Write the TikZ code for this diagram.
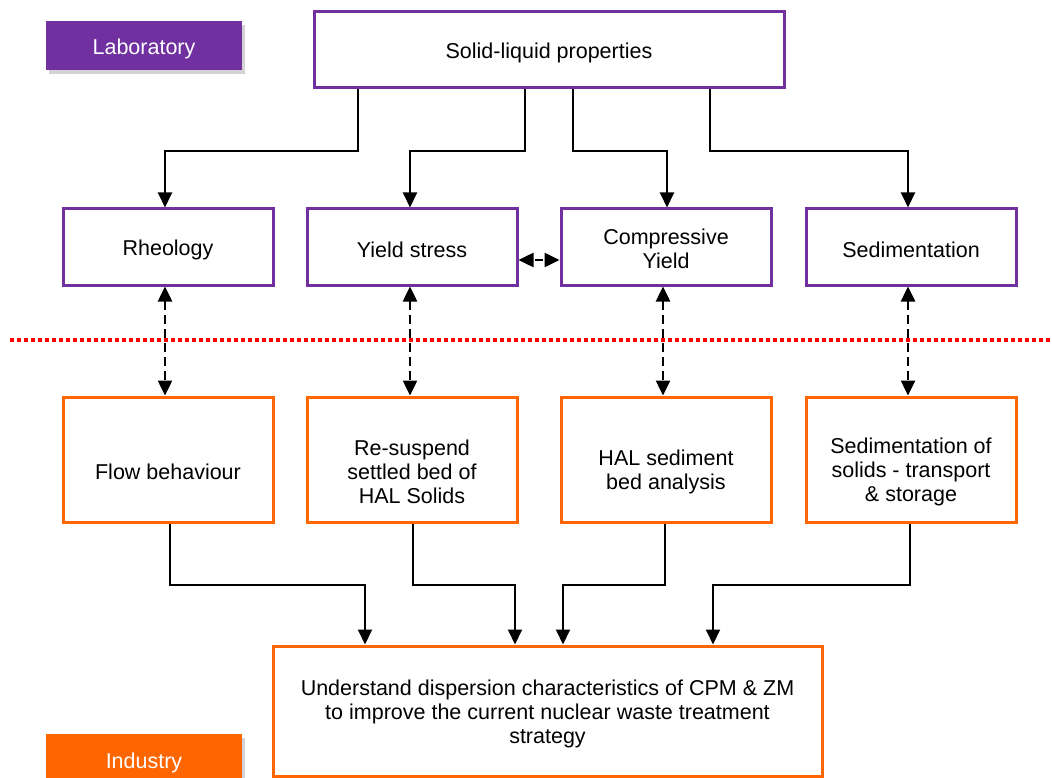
\documentclass[tikz,border=0pt]{standalone}
\usepackage{fontspec}
\setmainfont{Liberation Sans}
\usetikzlibrary{arrows.meta,shadows,calc}
\definecolor{labpurple}{HTML}{7030A0}
\definecolor{indorange}{HTML}{FF6600}
\begin{document}
\begin{tikzpicture}[x=1pt,y=-1pt,
  every node/.style={font=\fontsize{21.5}{24}\selectfont, align=center, inner sep=2pt},
  labbox/.style={draw=labpurple, line width=3pt, fill=white, minimum width=210pt, minimum height=76pt},
  indbox/.style={draw=indorange, line width=3pt, fill=white, minimum width=210pt, minimum height=125pt},
  boxtext/.style={inner sep=0pt},
  tag/.style={minimum width=196pt, drop shadow={shadow xshift=3pt, shadow yshift=-4pt, opacity=0.35}},
  arr/.style={draw=black, line width=2pt, -{Triangle[width=14pt,length=15pt]}},
  darr/.style={draw=black, line width=2.5pt, dash pattern=on 9pt off 5pt,
    {Triangle[width=14pt,length=15pt]}-{Triangle[width=14pt,length=15pt]}},
  divider/.style={draw=red, line width=3.5pt, dash pattern=on 3.5pt off 3.5pt}]
\useasboundingbox (0,0) rectangle (1052,778);

% category tags
\node[tag, fill=labpurple, minimum height=49pt] (lab) at (144,45.5) {};
\node[boxtext, text=white] at ([yshift=-3pt]lab.center) {Laboratory};
\node[tag, fill=indorange, minimum height=52pt] (ind) at (144,760) {};
\node[boxtext, text=white] at ([yshift=-3pt]ind.center) {Industry};

% laboratory level
\node[labbox, minimum width=470pt] (top) at (549,50) {};
\node[boxtext] at ([yshift=-3pt]top.center) {Solid-liquid properties};
\node[labbox] (rheo) at (168,247) {};
\node[boxtext] at ([yshift=-3pt]rheo.center) {Rheology};
\node[labbox] (yield) at (412,247) {};
\node[boxtext] at ([yshift=-3pt]yield.center) {Yield stress};
\node[labbox] (comp) at (666,247) {};
\node[boxtext] at ([yshift=-2pt]comp.center) {Compressive\\Yield};
\node[labbox] (sed) at (911,247) {};
\node[boxtext] at ([yshift=-3pt]sed.center) {Sedimentation};

% laboratory / industry boundary
\coordinate (divL) at (10,340);
\coordinate (divR) at (1052,340);
\draw[divider] (divL) -- (divR);

% industry level
\node[indbox] (flow) at (168,459.5) {};
\node[boxtext] at ([yshift=-12pt]flow.center) {Flow behaviour};
\node[indbox] (resus) at (412,459.5) {};
\node[boxtext] at ([yshift=-12pt]resus.center) {Re-suspend\\settled bed of\\HAL Solids};
\node[indbox] (hal) at (666,459.5) {};
\node[boxtext] at ([yshift=-12pt]hal.center) {HAL sediment\\bed analysis};
\node[indbox] (sedsol) at (911,459.5) {};
\node[boxtext] at ([yshift=-12pt]sedsol.center) {Sedimentation of\\solids - transport\\\& storage};

\node[draw=indorange, line width=3pt, fill=white, minimum width=549pt, minimum height=130pt] (bot) at (547.5,711) {};
\node[boxtext] at ([yshift=-3pt]bot.center)
  {Understand dispersion characteristics of CPM \& ZM\\to improve the current nuclear waste treatment\\strategy};

% properties feeding the four measurements
\draw[arr] ([xshift=-191pt]top.south) -- ++(0,62) -| ([xshift=-3pt]rheo.north);
\draw[arr] ([xshift=-24pt]top.south) -- ++(0,62) -| ([xshift=-2pt]yield.north);
\draw[arr] ([xshift=24pt]top.south) -- ++(0,62) -| ([xshift=1pt]comp.north);
\draw[arr] ([xshift=161pt]top.south) -- ++(0,62) -| ([xshift=-3pt]sed.north);

% links between laboratory and industry
\draw[darr] ([xshift=-3pt]rheo.south) -- ([xshift=-3pt]flow.north);
\draw[darr] ([xshift=-2pt]yield.south) -- ([xshift=-2pt]resus.north);
\draw[darr] ([xshift=-3pt]comp.south) -- ([xshift=-3pt]hal.north);
\draw[darr] ([xshift=-3pt]sed.south) -- ([xshift=-3pt]sedsol.north);
\draw[darr, dash pattern=on 8pt off 8pt, dash phase=-2pt] ([yshift=-13pt]yield.east) -- ([yshift=-13pt]comp.west);

% industry needs feeding the overall aim
\draw[arr] ([xshift=2pt]flow.south) -- ++(0,61) -| ([xshift=-182.5pt]bot.north);
\draw[arr] ([xshift=1pt]resus.south) -- ++(0,61) -| ([xshift=-32.5pt]bot.north);
\draw[arr] ([xshift=-1pt]hal.south) -- ++(0,61) -| ([xshift=15.5pt]bot.north);
\draw[arr] ([xshift=-1pt]sedsol.south) -- ++(0,61) -| ([xshift=165.5pt]bot.north);
\end{tikzpicture}
\end{document}
